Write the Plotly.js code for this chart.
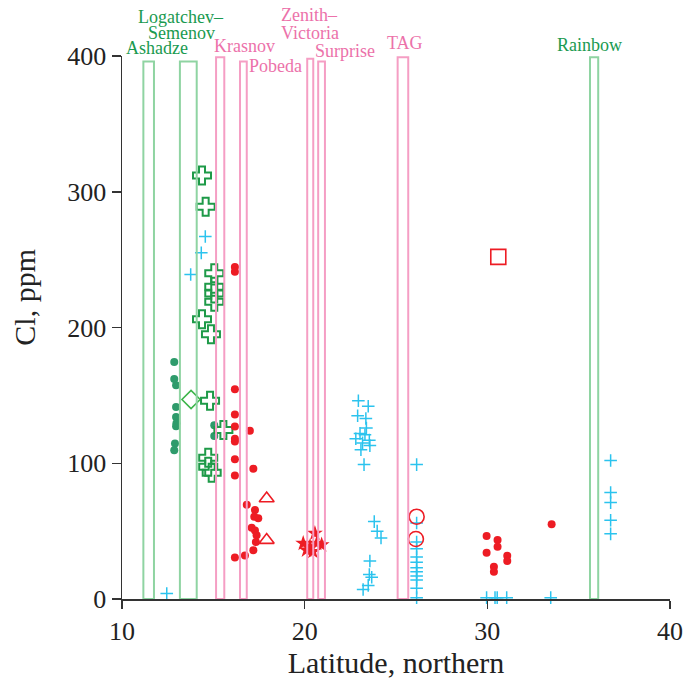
<!DOCTYPE html>
<html>
<head>
<meta charset="utf-8">
<script src="https://cdn.plot.ly/plotly-3.0.1.min.js"></script>
<style>html,body{margin:0;padding:0;background:#fff;}#chart{width:685px;height:685px;}</style>
</head>
<body>
<div id="chart"></div>
<script>
// Hydrothermal fields (latitude bands)
const fieldNames = ["Ashadze", "Logatchev", "Krasnov", "Pobeda", "Zenith-Victoria", "Surprise", "TAG", "Rainbow"];
const fieldX0 = [11.17, 13.17, 15.15, 16.46, 20.14, 20.74, 25.09, 35.62];
const fieldX1 = [11.75, 14.09, 15.60, 16.83, 20.47, 21.11, 25.67, 36.07];
const fieldTop = [396, 396, 399, 396, 398, 396, 399, 399];
const fieldGroup = ["green", "green", "pink", "pink", "pink", "pink", "pink", "green"];

// Field labels
const labelText = ["Ashadze", "Logatchev–", "Semenov", "Krasnov", "Pobeda", "Zenith–", "Victoria", "Surprise", "TAG", "Rainbow"];
const labelX = [11.9, 13.23, 13.23, 16.73, 18.43, 20.29, 20.29, 22.2, 25.49, 35.62];
const labelY = [406, 428.5, 417, 407, 392.5, 430, 417, 404, 409.5, 408];
const labelGroup = ["green", "green", "green", "pink", "pink", "pink", "pink", "pink", "pink", "green"];

// Series
const darkGreenDotX = [12.86, 12.86, 12.96, 12.96, 12.96, 12.96, 12.98, 12.9, 12.86, 15.05, 15.05];
const darkGreenDotY = [174.6, 162, 157.5, 141.5, 134, 127.3, 129.5, 114.6, 109.6, 128, 120];

const greenDiamondX = [13.78];
const greenDiamondY = [147];

const greenCrossX = [14.38, 14.58, 15.05, 15.05, 15.05, 15.05, 14.38, 14.87, 14.82, 15.55, 14.72, 14.72, 14.91];
const greenCrossY = [312, 289, 240, 230, 225, 219, 206, 195, 146, 124.5, 104, 97.5, 93];

const blueCrossX = [14.56, 14.34, 13.76, 12.45,
  22.94, 23.48, 22.9, 23.35, 23.38, 23.03, 23.3, 22.8, 23.54, 23.17, 23.57, 23.08, 23.25,
  23.81, 23.97, 24.18, 23.57, 23.54, 23.67, 23.48, 23.2,
  26.13, 26.13, 26.13, 26.13, 26.13, 26.13, 26.13, 26.13, 26.13, 26.13, 26.13, 26.13,
  29.96, 30.42, 30.54, 31.06, 33.47,
  36.75, 36.75, 36.75, 36.75, 36.75];
const blueCrossY = [267, 255, 239, 4,
  146, 142, 135, 133, 126, 122, 121, 118, 117, 115, 113, 110, 99,
  57, 50, 45, 28, 18, 16, 10, 7,
  99, 56, 42, 37, 31, 27, 23, 20, 17, 14, 8, 1,
  1, 1, 1, 1, 1,
  102, 78.5, 71, 58, 48];

const redDotX = [16.18, 16.18, 16.18, 16.18, 16.18, 17.0, 16.18, 16.18, 16.18, 17.19, 16.18,
  16.83, 17.28, 17.46, 17.24, 17.1, 17.28, 17.37, 17.33, 17.19, 16.18, 16.73,
  29.96, 30.56, 30.56, 29.96, 31.09, 31.09, 30.36, 30.36, 33.52];
const redDotY = [244.5, 241, 154.5, 136, 127, 124, 118, 116, 103, 96, 91,
  69.5, 65.5, 59.4, 60.6, 52.5, 50.5, 47, 42, 36, 30.5, 32,
  46.4, 43.4, 38.5, 34.1, 31.9, 28, 23.8, 20.1, 55];

const redTriangleX = [17.92, 17.92];
const redTriangleY = [74, 43.4];

const redCircleX = [26.13, 26.09];
const redCircleY = [60.6, 44.2];

const redSquareX = [30.6];
const redSquareY = [252];

const redStarX = [19.92, 20.56, 20.66, 20.29, 20.93, 20.45, 20.1];
const redStarY = [41, 48.4, 41, 38.5, 39.8, 35, 36];

const COLORS = {
  greenLine: "#8fd4a2", pinkLine: "#f59ec4",
  greenText: "#1a9a50", pinkText: "#ec72aa",
  darkGreen: "#2e9b6b", green: "#1e9a48", diamond: "#3db54a",
  blue: "#2bc3ee", red: "#ed1c24"
};

const traces = [];

function pts(x, y, symbol, size, color, lineW) {
  return {
    type: "scatter", mode: "markers", x: x, y: y, showlegend: false, hoverinfo: "x+y",
    cliponaxis: false,
    marker: {symbol: symbol, size: size, color: color, line: {color: color, width: lineW}}
  };
}

traces.push(pts(darkGreenDotX, darkGreenDotY, "circle", 8, COLORS.darkGreen, 0));
traces.push(pts(greenDiamondX, greenDiamondY, "diamond-open", 14, COLORS.diamond, 1.6));
traces.push(pts(greenCrossX, greenCrossY, "cross-open", 15, COLORS.green, 2));
traces.push(pts(blueCrossX, blueCrossY, "cross-thin-open", 9, COLORS.blue, 1.5));
traces.push(pts(redDotX, redDotY, "circle", 8, COLORS.red, 0));
traces.push(pts(redTriangleX, redTriangleY, "triangle-up-open", 13, COLORS.red, 1.6));
traces.push(pts(redCircleX, redCircleY, "circle-open", 15, COLORS.red, 1.6));
traces.push(pts(redSquareX, redSquareY, "square-open", 15, COLORS.red, 1.6));
traces.push(pts(redStarX, redStarY, "star", 12, COLORS.red, 0));

// field rectangles (drawn on top)
["green", "pink"].forEach(function(g) {
  const xs = [], ys = [];
  for (let i = 0; i < fieldNames.length; i++) {
    if (fieldGroup[i] !== g) continue;
    xs.push(fieldX0[i], fieldX0[i], fieldX1[i], fieldX1[i], fieldX0[i], null);
    ys.push(0, fieldTop[i], fieldTop[i], 0, 0, null);
  }
  traces.push({
    type: "scatter", mode: "lines", x: xs, y: ys, showlegend: false, hoverinfo: "skip",
    cliponaxis: false,
    line: {color: g === "green" ? COLORS.greenLine : COLORS.pinkLine, width: 2}
  });
});

const Y_MAX = 400;
const annotations = labelText.map(function(t, i) {
  return {
    text: t, x: labelX[i], y: labelY[i] / Y_MAX, xref: "x", yref: "paper", showarrow: false,
    xanchor: "center", yanchor: "middle", borderpad: 0,
    font: {family: "Liberation Serif", size: 18, color: labelGroup[i] === "green" ? COLORS.greenText : COLORS.pinkText}
  };
});

const tickFont = {family: "Liberation Serif", size: 26, color: "#222"};
const titleFont = {family: "Liberation Serif", size: 30, color: "#222"};

// y-axis title as annotation (sits a bit above centre in the reference)
annotations.push({
  text: "Cl, ppm", x: 0, xref: "paper", xanchor: "center", xshift: -97,
  y: 0.555, yref: "paper", yanchor: "middle", textangle: -90, showarrow: false,
  font: titleFont
});

const layout = {
  width: 685, height: 685,
  margin: {l: 122, r: 15, t: 56, b: 86},
  paper_bgcolor: "#fff", plot_bgcolor: "#fff",
  showlegend: false,
  xaxis: {
    range: [10, 40], tickvals: [10, 20, 30, 40], ticks: "outside", ticklen: 8, tickwidth: 1.5, tickcolor: "#333",
    showline: true, linecolor: "#333", linewidth: 1.5, showgrid: false, zeroline: false,
    tickfont: tickFont,
    title: {text: "Latitude, northern", font: titleFont, standoff: 3}
  },
  yaxis: {
    range: [0, Y_MAX], tickvals: [0, 100, 200, 300, 400], ticks: "outside", ticklen: 9, tickwidth: 1.5, tickcolor: "#333",
    showline: true, linecolor: "#333", linewidth: 1.5, showgrid: false, zeroline: false,
    tickfont: tickFont
  },
  annotations: annotations
};

Plotly.newPlot("chart", traces, layout, {displayModeBar: false, staticPlot: true});
</script>
</body>
</html>
